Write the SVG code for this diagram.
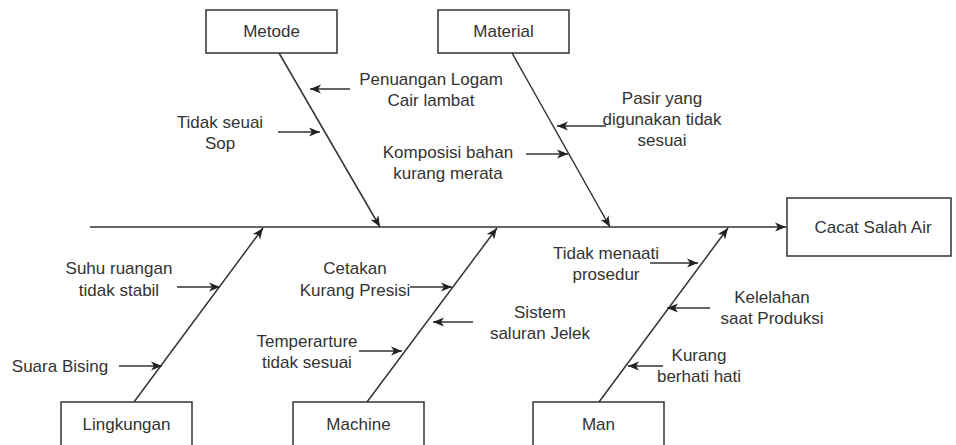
<svg xmlns="http://www.w3.org/2000/svg" width="956" height="445" viewBox="0 0 956 445">
<defs>
<marker id="arr" markerUnits="userSpaceOnUse" markerWidth="12" markerHeight="10" viewBox="0 0 12 10" refX="11" refY="5" orient="auto">
<path d="M0,0.5 L11,5 L0,9.5 L3,5 z" fill="#222"/>
</marker>
</defs>
<style>
.box{fill:#fff;stroke:#333;stroke-width:1.5}
.ln{fill:none;stroke:#333;stroke-width:1.5;marker-end:url(#arr)}
text{font-family:"Liberation Sans",Arial,sans-serif;font-size:17px;fill:#333;text-anchor:middle}
</style>
<rect width="956" height="445" fill="#fff"/>
<g id="connectors">
<path class="ln" d="M90,227 L786,227"/>
<path class="ln" d="M279,53 L380,227"/>
<path class="ln" d="M512,53 L610,227"/>
<path class="ln" d="M134,402 L263,228"/>
<path class="ln" d="M367,402 L497,228"/>
<path class="ln" d="M599,402 L728,228"/>
<path class="ln" d="M350,89 L310,89"/>
<path class="ln" d="M278,132 L320,132"/>
<path class="ln" d="M606,126 L557,126"/>
<path class="ln" d="M526,154 L568,154"/>
<path class="ln" d="M177,287 L220,287"/>
<path class="ln" d="M119,366 L162,366"/>
<path class="ln" d="M410,287 L452,287"/>
<path class="ln" d="M359,351 L402,351"/>
<path class="ln" d="M473,322 L433,322"/>
<path class="ln" d="M650,263 L698,263"/>
<path class="ln" d="M710,308 L667,308"/>
<path class="ln" d="M663,366 L628,366"/>
</g>
<g id="metode"><rect class="box" x="206" y="10" width="131" height="43"/><text x="271.5" y="37">Metode</text></g>
<g id="material"><rect class="box" x="438" y="10" width="131" height="43"/><text x="503.5" y="37">Material</text></g>
<g id="cacat"><rect class="box" x="787" y="198" width="164" height="58"/><text x="873" y="233">Cacat Salah Air</text></g>
<g id="lingkungan"><rect class="box" x="61" y="402" width="131" height="60"/><text x="126.5" y="430">Lingkungan</text></g>
<g id="machine"><rect class="box" x="293" y="402" width="131" height="60"/><text x="358.5" y="430">Machine</text></g>
<g id="man"><rect class="box" x="533" y="402" width="131" height="60"/><text x="598.5" y="430">Man</text></g>
<g id="c-penuangan"><text x="431" y="85">Penuangan Logam</text><text x="431" y="106">Cair lambat</text></g>
<g id="c-sop"><text x="220" y="128">Tidak seuai</text><text x="220" y="149">Sop</text></g>
<g id="c-pasir"><text x="662" y="104">Pasir yang</text><text x="662" y="125">digunakan tidak</text><text x="662" y="146">sesuai</text></g>
<g id="c-komposisi"><text x="448" y="158">Komposisi bahan</text><text x="448" y="179">kurang merata</text></g>
<g id="c-suhu"><text x="119" y="274">Suhu ruangan</text><text x="119" y="296">tidak stabil</text></g>
<g id="c-suara"><text x="60" y="372">Suara Bising</text></g>
<g id="c-cetakan"><text x="355" y="274">Cetakan</text><text x="355" y="296">Kurang Presisi</text></g>
<g id="c-temp"><text x="307" y="347">Temperarture</text><text x="307" y="368">tidak sesuai</text></g>
<g id="c-sistem"><text x="540" y="318">Sistem</text><text x="540" y="339">saluran Jelek</text></g>
<g id="c-menaati"><text x="606" y="259">Tidak menaati</text><text x="606" y="280">prosedur</text></g>
<g id="c-kelelahan"><text x="772" y="303">Kelelahan</text><text x="772" y="324">saat Produksi</text></g>
<g id="c-kurang"><text x="699" y="361">Kurang</text><text x="699" y="382">berhati hati</text></g>
</svg>
